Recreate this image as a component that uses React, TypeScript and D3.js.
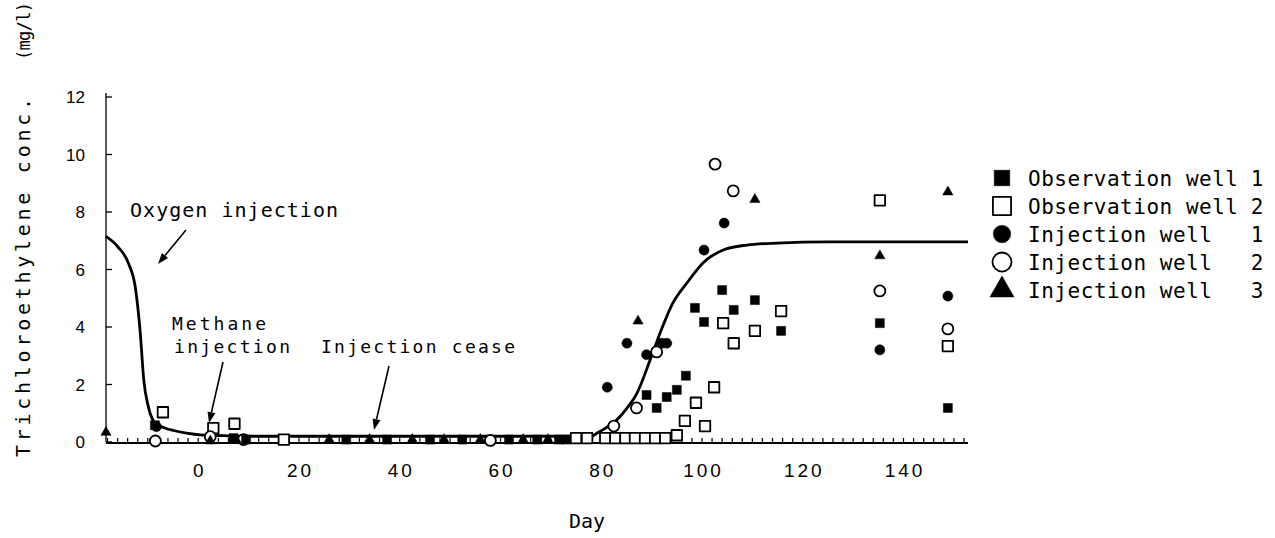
import * as d3 from "d3";
import React from "react";

// axis ticks
const xTickLabels = [0, 20, 40, 60, 80, 100, 120, 140];
const yTickLabels = [0, 2, 4, 6, 8, 10, 12];
const minorTicks = d3.range(-18, 153, 2);

// [day, mg/l]
const obsWell1 = [
  [-8.6, 0.55], [7, 0.1], [9.5, 0.05], [29.4, 0.05], [37.5, 0.05], [46, 0.05],
  [52.4, 0.05], [61.7, 0.05], [67.3, 0.05], [71.6, 0.05], [73, 0.05],
  [89, 1.6], [91, 1.15], [93, 1.53], [95, 1.78], [96.8, 2.27], [98.6, 4.63],
  [100.4, 4.14], [104, 5.25], [106.3, 4.56], [110.5, 4.9], [115.7, 3.83],
  [135.3, 4.1], [148.8, 1.15],
];
const obsWell2 = [
  [-7, 1.0], [3, 0.45], [7.2, 0.6], [17, 0.05], [75, 0.1], [77.2, 0.1],
  [80.8, 0.1], [82.8, 0.1], [84.8, 0.1], [86.7, 0.1], [88.7, 0.1], [90.7, 0.1],
  [92.7, 0.1], [95, 0.2], [96.6, 0.7], [98.8, 1.33], [100.6, 0.52], [102.4, 1.87],
  [104.2, 4.1], [106.3, 3.4], [110.5, 3.83], [115.7, 4.52], [135.3, 8.37], [148.8, 3.3],
];
const injWell1 = [
  [-8.3, 0.5], [81.2, 1.87], [85.1, 3.4], [89, 3.0], [92, 3.4], [93, 3.4],
  [100.4, 6.64], [104.4, 7.58], [135.3, 3.17], [148.8, 5.04],
];
const injWell2 = [
  [-8.5, 0], [2.4, 0.15], [9, 0.05], [58, 0.02], [82.5, 0.52], [87, 1.15],
  [91, 3.1], [102.6, 9.63], [106.2, 8.7], [135.3, 5.22], [148.8, 3.9],
];
const injWell3 = [
  [-18.3, 0.3], [2.4, 0], [7.5, 0.05], [26, 0.05], [34, 0.05], [42.5, 0.05],
  [48.8, 0.05], [56, 0.05], [64.5, 0.05], [69.4, 0.05], [87.3, 4.17],
  [110.5, 8.4], [135.3, 6.44], [148.8, 8.66],
];

// hand drawn trend line
const trend = [
  [-18.3, 7.15], [-16, 6.8], [-13.8, 6.2], [-12.5, 5.4], [-11.5, 3.8], [-10.8, 2.15],
  [-9.9, 1.23], [-8.5, 0.65], [-6.5, 0.48], [-4.9, 0.4], [-2, 0.3], [0.4, 0.25],
  [5, 0.22], [10, 0.2], [78, 0.2], [79.2, 0.31], [81, 0.5], [83.1, 0.77], [85, 1.15],
  [87.1, 1.7], [89.7, 2.85], [91.7, 3.8], [94.2, 4.83], [97, 5.53], [100.2, 6.23],
  [104.2, 6.68], [108.9, 6.85], [114.9, 6.92], [125, 6.96], [152.8, 6.96],
];

const legendLabels = [
  "Observation well",
  "Observation well",
  "Injection well",
  "Injection well",
  "Injection well",
];
const legendNumbers = ["1", "2", "1", "2", "3"];
const legendKinds = ["fsq", "osq", "fci", "oci", "tri"];

const mono = "'DejaVu Sans Mono', monospace";
const sans = "'Liberation Sans', Arial, sans-serif";

const markerPath = (kind, scale = 1) => {
  const s = d3.symbol();
  if (kind === "fsq") return s.type(d3.symbolSquare).size(81 * scale)();
  if (kind === "osq") return s.type(d3.symbolSquare).size(110 * scale)();
  if (kind === "fci") return s.type(d3.symbolCircle).size(80 * scale)();
  if (kind === "oci") return s.type(d3.symbolCircle).size(95 * scale)();
  return s.type(d3.symbolTriangle).size(46 * scale)();
};

function Marker({ kind, x, y, scale = 1 }) {
  const open = kind === "osq" || kind === "oci";
  return (
    <path
      transform={`translate(${x},${y})`}
      d={markerPath(kind, scale)}
      fill={open ? "#fff" : "#000"}
      stroke="#000"
      strokeWidth={open ? 1.8 : 0.5}
      strokeLinejoin="round"
    />
  );
}

function Arrow({ x1, y1, x2, y2 }) {
  const a = Math.atan2(y2 - y1, x2 - x1);
  const len = 11;
  const w = 4;
  const bx = x2 - len * Math.cos(a);
  const by = y2 - len * Math.sin(a);
  const px = -Math.sin(a) * w;
  const py = Math.cos(a) * w;
  return (
    <g>
      <line x1={x1} y1={y1} x2={bx} y2={by} stroke="#000" strokeWidth={1.6} />
      <path d={`M${x2},${y2}L${bx + px},${by + py}L${bx - px},${by - py}Z`} fill="#000" />
    </g>
  );
}

export default function App() {
  const width = 1275;
  const height = 538;

  const x = d3.scaleLinear().domain([-18.3, 152.8]).range([106, 968]);
  const y = d3.scaleLinear().domain([0, 12]).range([442, 97]);

  const line = d3
    .line()
    .x((d) => x(d[0]))
    .y((d) => y(d[1]))
    .curve(d3.curveMonotoneX);

  const series = [
    { kind: "osq", data: obsWell2 },
    { kind: "oci", data: injWell2 },
    { kind: "fsq", data: obsWell1 },
    { kind: "fci", data: injWell1 },
    { kind: "tri", data: injWell3 },
  ];

  return (
    <svg
      width={width}
      height={height}
      style={{ position: "absolute", left: 0, top: 0, background: "#fff" }}
    >
      <rect width={width} height={height} fill="#fff" />

      {/* y axis */}
      <line x1={x(-18.3)} x2={x(-18.3)} y1={y(12) - 4} y2={y(0)} stroke="#000" strokeWidth={1.3} />
      {yTickLabels.map((t) => (
        <g key={t}>
          <line x1={x(-18.3)} x2={x(-18.3) + 6} y1={y(t)} y2={y(t)} stroke="#000" strokeWidth={1.3} />
          <text
            x={85}
            y={y(t) + 6}
            textAnchor="end"
            fontFamily={sans}
            fontSize={17}
          >
            {t}
          </text>
        </g>
      ))}

      {/* x axis */}
      <line x1={x(-18.3)} x2={x(152.8)} y1={y(0) + 1} y2={y(0) + 1} stroke="#000" strokeWidth={2} />
      {minorTicks.map((t) => (
        <line key={t} x1={x(t)} x2={x(t)} y1={y(0) + 1} y2={y(0) - 4} stroke="#000" strokeWidth={1.2} />
      ))}
      {xTickLabels.map((t) => (
        <text
          key={t}
          x={x(t) + 1.5}
          y={477}
          textAnchor="middle"
          fontFamily={sans}
          fontSize={19}
          letterSpacing={3}
        >
          {t}
        </text>
      ))}

      {/* trend line */}
      <path d={line(trend)} fill="none" stroke="#000" strokeWidth={2.8} />

      {/* data */}
      {series.map((s) =>
        s.data.map((d, i) => (
          <Marker key={s.kind + i} kind={s.kind} x={x(d[0])} y={y(d[1]) - 1} />
        ))
      )}

      {/* annotations */}
      <text x={130} y={217} fontFamily={mono} fontSize={20} textLength={208} lengthAdjust="spacing">
        Oxygen injection
      </text>
      <Arrow x1={186} y1={230} x2={158} y2={264} />
      <text x={172} y={330} fontFamily={mono} fontSize={18} textLength={94} lengthAdjust="spacing">
        Methane
      </text>
      <text x={174} y={353} fontFamily={mono} fontSize={18} textLength={116} lengthAdjust="spacing">
        injection
      </text>
      <Arrow x1={223} y1={362} x2={209} y2={423} />
      <text x={321} y={353} fontFamily={mono} fontSize={18} textLength={194} lengthAdjust="spacing">
        Injection cease
      </text>
      <Arrow x1={389} y1={366} x2={374} y2={430} />

      {/* axis titles */}
      <text x={587} y={528} textAnchor="middle" fontFamily={mono} fontSize={20}>
        Day
      </text>
      <g transform="translate(30,457) rotate(-90)">
        <text x={0} y={0} fontFamily={mono} fontSize={20} textLength={359} lengthAdjust="spacing">
          Trichloroethylene conc.
        </text>
        <text x={397} y={0} fontFamily={mono} fontSize={17} textLength={58} lengthAdjust="spacing">
          (mg/l)
        </text>
      </g>

      {/* legend */}
      {legendLabels.map((lab, i) => {
        const cy = 178 + i * 28;
        return (
          <g key={i}>
            <Marker kind={legendKinds[i]} x={1002} y={cy} scale={legendKinds[i] === "tri" ? 5.5 : 3} />
            <text
              x={1028}
              y={cy + 8}
              fontFamily={mono}
              fontSize={21}
              textLength={lab.length === 16 ? 210 : 184}
              lengthAdjust="spacing"
            >
              {lab}
            </text>
            <text x={1257} y={cy + 8} textAnchor="middle" fontFamily={mono} fontSize={21}>
              {legendNumbers[i]}
            </text>
          </g>
        );
      })}
    </svg>
  );
}
